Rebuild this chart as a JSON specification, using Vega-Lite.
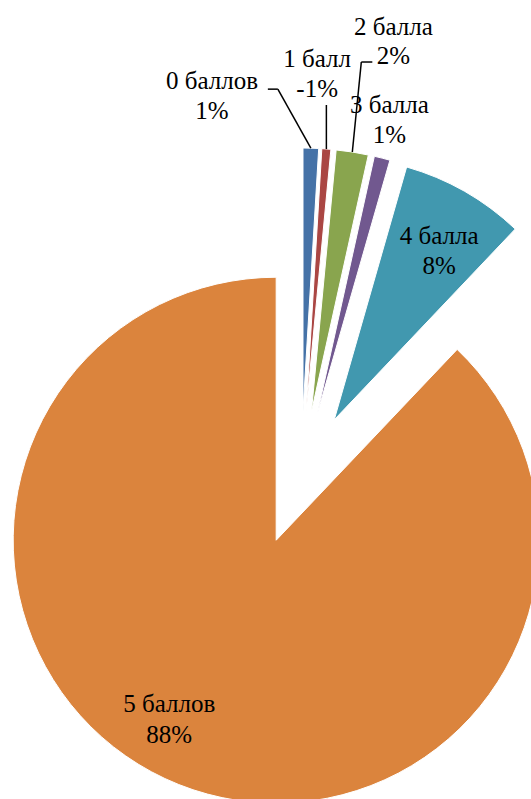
{
  "$schema": "https://vega.github.io/schema/vega-lite/v6.json",
  "width": 531,
  "height": 799,
  "autosize": {"type": "none"},
  "padding": 0,
  "background": "white",
  "config": {"view": {"stroke": null}, "text": {"font": "'Liberation Serif', 'Times New Roman', serif"}},
  "data": {
    "values": [
      {"category": "0 баллов", "value": 0.95, "pct": "1%"},
      {"category": "1 балл", "value": 0.55, "pct": "-1%"},
      {"category": "2 балла", "value": 1.97, "pct": "2%"},
      {"category": "3 балла", "value": 0.97, "pct": "1%"},
      {"category": "4 балла", "value": 7.64, "pct": "8%"},
      {"category": "5 баллов", "value": 87.92, "pct": "88%"}
    ]
  },
  "transform": [
    {"window": [{"op": "sum", "field": "value", "as": "end"}], "frame": [null, 0]},
    {"calculate": "datum.end - datum.value", "as": "start"},
    {"calculate": "2*PI*(datum.end - datum.value/2)/100", "as": "mid"},
    {"calculate": "67*sin(datum.mid)", "as": "cx"},
    {"calculate": "67*cos(datum.mid)", "as": "cy"},
    {"calculate": "330*sin(datum.mid)", "as": "ox"},
    {"calculate": "330*cos(datum.mid)", "as": "oy"},
    {"calculate": "datum.category + '\\n' + datum.pct", "as": "label"}
  ],
  "layer": [
    {
      "mark": {"type": "arc", "radius": 263, "stroke": "white", "strokeWidth": 1},
      "encoding": {
        "theta": {"field": "start", "type": "quantitative", "scale": {"domain": [0, 100]}, "stack": null},
        "theta2": {"field": "end"},
        "x": {"field": "cx", "type": "quantitative", "scale": {"domain": [-301, 230], "nice": false, "zero": false}, "axis": null},
        "y": {"field": "cy", "type": "quantitative", "scale": {"domain": [-321, 478], "nice": false, "zero": false}, "axis": null},
        "color": {
          "field": "category", "type": "nominal", "legend": null,
          "scale": {
            "domain": ["0 баллов", "1 балл", "2 балла", "3 балла", "4 балла", "5 баллов"],
            "range": ["#4572A7", "#AA4643", "#89A54E", "#71588F", "#4198AF", "#DB843D"]
          }
        }
      }
    },
    {
      "transform": [{"filter": "datum.category == '0 баллов'"}, {"calculate": "datum.ox - 33", "as": "ex"}, {"calculate": "datum.oy + 59", "as": "ey"}],
      "mark": {"type": "rule", "color": "black", "strokeWidth": 1.5},
      "encoding": {
        "x": {"field": "ox", "type": "quantitative"}, "y": {"field": "oy", "type": "quantitative"},
        "x2": {"field": "ex"}, "y2": {"field": "ey"}
      }
    },
    {
      "transform": [{"filter": "datum.category == '0 баллов'"}, {"calculate": "datum.ox - 33", "as": "sx"}, {"calculate": "datum.oy + 59", "as": "sy"}, {"calculate": "datum.ox - 43", "as": "ex"}],
      "mark": {"type": "rule", "color": "black", "strokeWidth": 1.5},
      "encoding": {
        "x": {"field": "sx", "type": "quantitative"}, "y": {"field": "sy", "type": "quantitative"},
        "x2": {"field": "ex"}, "y2": {"field": "sy"}
      }
    },
    {
      "transform": [{"filter": "datum.category == '1 балл'"}, {"calculate": "datum.oy + 44", "as": "ey"}],
      "mark": {"type": "rule", "color": "black", "strokeWidth": 1.5},
      "encoding": {
        "x": {"field": "ox", "type": "quantitative"}, "y": {"field": "oy", "type": "quantitative"},
        "x2": {"field": "ox"}, "y2": {"field": "ey"}
      }
    },
    {
      "transform": [{"filter": "datum.category == '2 балла'"}, {"calculate": "datum.ox + 9", "as": "ex"}, {"calculate": "datum.oy + 90", "as": "ey"}],
      "mark": {"type": "rule", "color": "black", "strokeWidth": 1.5},
      "encoding": {
        "x": {"field": "ox", "type": "quantitative"}, "y": {"field": "oy", "type": "quantitative"},
        "x2": {"field": "ex"}, "y2": {"field": "ey"}
      }
    },
    {
      "transform": [{"filter": "datum.category == '2 балла'"}, {"calculate": "datum.ox + 9", "as": "sx"}, {"calculate": "datum.oy + 90", "as": "sy"}, {"calculate": "datum.ox + 20", "as": "ex"}],
      "mark": {"type": "rule", "color": "black", "strokeWidth": 1.5},
      "encoding": {
        "x": {"field": "sx", "type": "quantitative"}, "y": {"field": "sy", "type": "quantitative"},
        "x2": {"field": "ex"}, "y2": {"field": "sy"}
      }
    },
    {
      "transform": [{"filter": "datum.category == '0 баллов'"}],
      "mark": {"type": "text", "fontSize": 25, "align": "center", "baseline": "alphabetic", "lineBreak": "\n", "lineHeight": 30, "color": "black", "dx": -91, "dy": -322},
      "encoding": {"x": {"field": "cx", "type": "quantitative"}, "y": {"field": "cy", "type": "quantitative"}, "text": {"field": "label"}}
    },
    {
      "transform": [{"filter": "datum.category == '1 балл'"}],
      "mark": {"type": "text", "fontSize": 25, "align": "center", "baseline": "alphabetic", "lineBreak": "\n", "lineHeight": 30, "color": "black", "dx": 11, "dy": -344},
      "encoding": {"x": {"field": "cx", "type": "quantitative"}, "y": {"field": "cy", "type": "quantitative"}, "text": {"field": "label"}}
    },
    {
      "transform": [{"filter": "datum.category == '2 балла'"}],
      "mark": {"type": "text", "fontSize": 25, "align": "center", "baseline": "alphabetic", "lineBreak": "\n", "lineHeight": 29, "color": "black", "dx": 82, "dy": -377},
      "encoding": {"x": {"field": "cx", "type": "quantitative"}, "y": {"field": "cy", "type": "quantitative"}, "text": {"field": "label"}}
    },
    {
      "transform": [{"filter": "datum.category == '3 балла'"}],
      "mark": {"type": "text", "fontSize": 25, "align": "center", "baseline": "alphabetic", "lineBreak": "\n", "lineHeight": 30, "color": "black", "dx": 72, "dy": -300},
      "encoding": {"x": {"field": "cx", "type": "quantitative"}, "y": {"field": "cy", "type": "quantitative"}, "text": {"field": "label"}}
    },
    {
      "transform": [{"filter": "datum.category == '4 балла'"}],
      "mark": {"type": "text", "fontSize": 25, "align": "center", "baseline": "alphabetic", "lineBreak": "\n", "lineHeight": 30, "color": "black", "dx": 105, "dy": -176},
      "encoding": {"x": {"field": "cx", "type": "quantitative"}, "y": {"field": "cy", "type": "quantitative"}, "text": {"field": "label"}}
    },
    {
      "transform": [{"filter": "datum.category == '5 баллов'"}],
      "mark": {"type": "text", "fontSize": 25, "align": "center", "baseline": "alphabetic", "lineBreak": "\n", "lineHeight": 31, "color": "black", "dx": -107, "dy": 172},
      "encoding": {"x": {"field": "cx", "type": "quantitative"}, "y": {"field": "cy", "type": "quantitative"}, "text": {"field": "label"}}
    }
  ]
}
